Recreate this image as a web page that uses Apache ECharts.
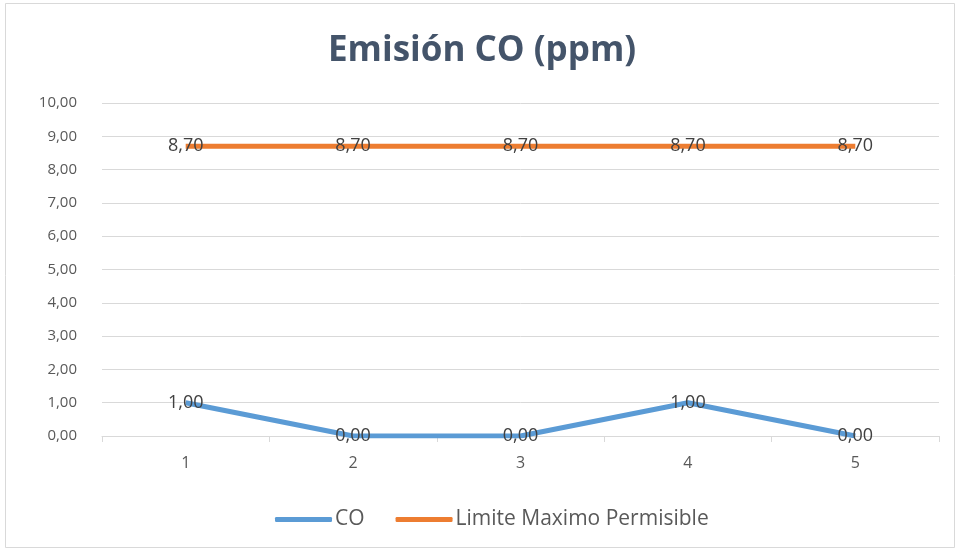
<!DOCTYPE html>
<html><head><meta charset="utf-8">
<script src="https://cdn.jsdelivr.net/npm/echarts@6/dist/echarts.min.js"></script>
<style>html,body{margin:0;padding:0;background:#fff}#c{width:960px;height:551px}</style>
</head><body><div id="c"></div>
<script>
const categories = ['1','2','3','4','5'];
const coValues = [1.00, 0.00, 0.00, 1.00, 0.00];
const limitValues = [8.70, 8.70, 8.70, 8.70, 8.70];
const seriesNames = ['CO', 'Limite Maximo Permisible'];
const titleText = 'Emisión CO (ppm)';

const fmt = v => Number(v).toFixed(2).replace('.', ',');
const font = '"Open Sans", "Noto Sans", sans-serif';
const chart = echarts.init(document.getElementById('c'), null, {renderer: 'canvas'});
const labelCfg = {show: true, position: 'inside', formatter: p => fmt(p.value), color: '#404040', fontSize: 18, fontFamily: font};
chart.setOption({
  animation: false,
  backgroundColor: '#fff',
  graphic: [{type: 'rect', shape: {x: 5.5, y: 3.5, width: 949, height: 544}, style: {fill: 'none', stroke: '#d9d9d9', lineWidth: 1}, silent: true}],
  title: {text: titleText, left: 323, top: 29, textStyle: {fontFamily: font, fontWeight: 'bold', fontSize: 35, color: '#44546a'}},
  legend: {bottom: 16, left: 270, itemWidth: 57, itemHeight: 5, itemGap: 31, icon: 'roundRect',
    textStyle: {fontFamily: font, fontSize: 21, color: '#595959', padding: [0, 0, 0, -2]},
    data: [{name: seriesNames[0], itemStyle: {color: '#5b9bd5'}}, {name: seriesNames[1], itemStyle: {color: '#ed7d31'}}]},
  grid: {left: 102, right: 21, top: 103, bottom: 115, containLabel: false},
  xAxis: {type: 'category', data: categories, boundaryGap: true,
    axisLine: {lineStyle: {color: '#d9d9d9', width: 1}},
    axisTick: {show: true, length: 6, lineStyle: {color: '#d9d9d9'}},
    axisLabel: {color: '#595959', fontSize: 16, fontFamily: font, margin: 19}},
  yAxis: {type: 'value', min: 0, max: 10, interval: 1,
    axisLine: {show: false}, axisTick: {show: false},
    splitLine: {lineStyle: {color: '#d9d9d9', width: 1}},
    axisLabel: {formatter: v => fmt(v), color: '#595959', fontSize: 15, fontFamily: font, margin: 25}},
  series: [
    {name: seriesNames[0], type: 'line', data: coValues, symbol: 'circle', symbolSize: 0.01, showSymbol: true, lineStyle: {color: '#5b9bd5', width: 5}, itemStyle: {color: '#5b9bd5'}, label: labelCfg, z: 3},
    {name: seriesNames[1], type: 'line', data: limitValues, symbol: 'circle', symbolSize: 0.01, showSymbol: true, lineStyle: {color: '#ed7d31', width: 5}, itemStyle: {color: '#ed7d31'}, label: labelCfg, z: 2}
  ]
});
</script></body></html>
